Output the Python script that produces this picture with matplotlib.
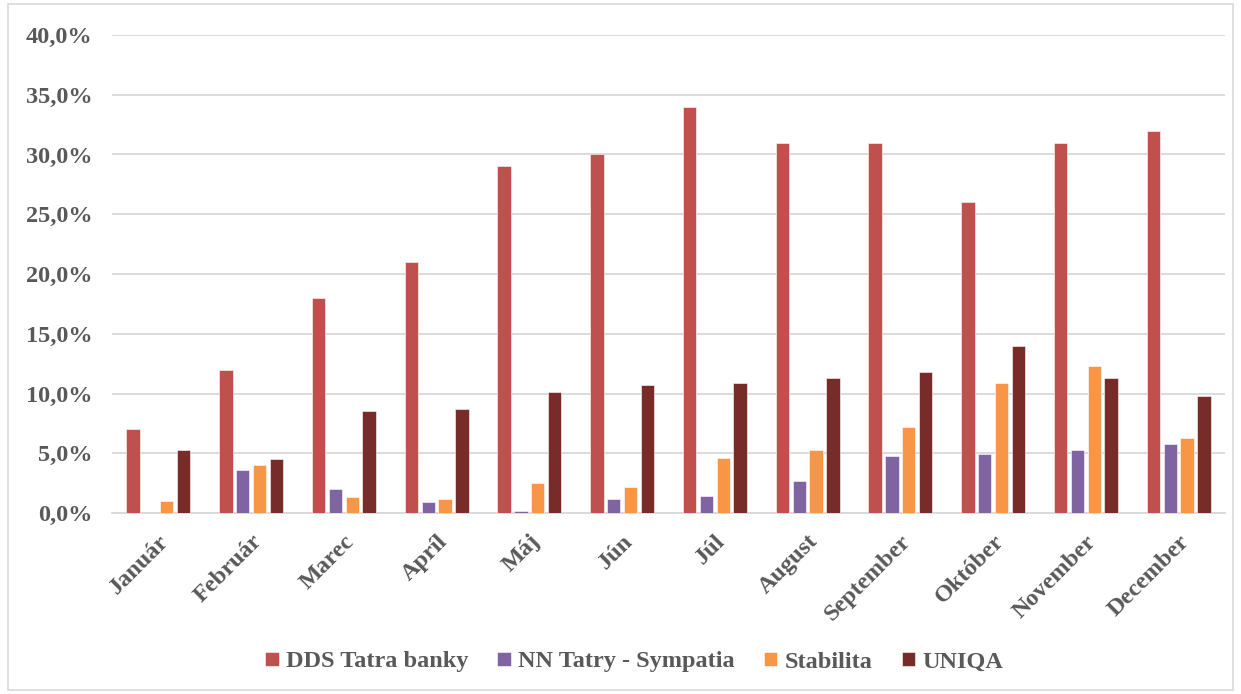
import matplotlib.pyplot as plt
import numpy as np
from matplotlib.ticker import FuncFormatter

# Mesiace a hodnoty (v %)
mesiace = ['Január', 'Február', 'Marec', 'Apríl', 'Máj', 'Jún', 'Júl',
           'August', 'September', 'Október', 'November', 'December']
dds_tatra = [7.0, 12.0, 18.0, 21.0, 29.0, 30.0, 34.0, 31.0, 31.0, 26.0, 31.0, 32.0]
nn_tatry = [0.0, 3.6, 2.0, 0.9, 0.15, 1.15, 1.4, 2.7, 4.8, 4.9, 5.3, 5.8]
stabilita = [1.0, 4.05, 1.3, 1.2, 2.5, 2.2, 4.6, 5.3, 7.2, 10.9, 12.3, 6.3]
uniqa = [5.3, 4.5, 8.5, 8.7, 10.1, 10.7, 10.9, 11.3, 11.8, 14.0, 11.3, 9.8]

serie = [('DDS Tatra banky', dds_tatra, '#C0504D'),
         ('NN Tatry - Sympatia', nn_tatry, '#8064A2'),
         ('Stabilita', stabilita, '#F79646'),
         ('UNIQA', uniqa, '#772C2A')]

plt.rcParams['font.family'] = ['Liberation Serif', 'DejaVu Serif']
plt.rcParams['font.weight'] = 'bold'
sivy = '#595959'
velkost = 17.5

fig = plt.figure(figsize=(12.41, 6.94), dpi=100)
ax = fig.add_axes([112 / 1241, 1 - 513 / 694, (1225 - 112) / 1241, (513 - 35) / 694])

x = np.arange(len(mesiace))
sirka = 0.145
krok = 0.181
for i, (nazov, hodnoty, farba) in enumerate(serie):
    ax.bar(x + (i - 1.5) * krok, hodnoty, sirka, color=farba, label=nazov,
           edgecolor='white', linewidth=0.4, zorder=3)

ax.set_xlim(-0.5, len(mesiace) - 0.5)
ax.set_ylim(0, 40)
ax.set_yticks(np.arange(0, 41, 5))
ax.yaxis.set_major_formatter(FuncFormatter(lambda v, p: f'{v:.1f}%'.replace('.', ',')))
ax.grid(axis='y', color='#D9D9D9', linewidth=1.3, zorder=0)
for s in ['top', 'right', 'left']:
    ax.spines[s].set_visible(False)
ax.spines['bottom'].set_color('#D9D9D9')
ax.spines['bottom'].set_linewidth(1.3)
ax.tick_params(axis='both', length=0, colors=sivy, labelsize=velkost)
ax.tick_params(axis='y', pad=14)
ax.tick_params(axis='x', pad=13)
ax.set_xticks(x)
ax.set_xticklabels(mesiace, rotation=45, ha='right', rotation_mode='anchor',
                   fontweight='bold', color=sivy)
for t in ax.get_yticklabels():
    t.set_fontweight('bold')

leg = fig.legend(loc='center', bbox_to_anchor=(0.511, 1 - 662 / 694), ncol=4,
                 frameon=False, fontsize=velkost, handlelength=0.55, handleheight=0.55,
                 columnspacing=1.2, handletextpad=0.3)
for t in leg.get_texts():
    t.set_color(sivy)
    t.set_fontweight('bold')

# Rámik okolo grafu
fig.patches.append(plt.Rectangle((8 / 1241, 4 / 694), 1225 / 1241, 686 / 694,
                                 transform=fig.transFigure, fill=False,
                                 edgecolor='#D9D9D9', linewidth=1.2))

fig.savefig('out.png', dpi=100)
